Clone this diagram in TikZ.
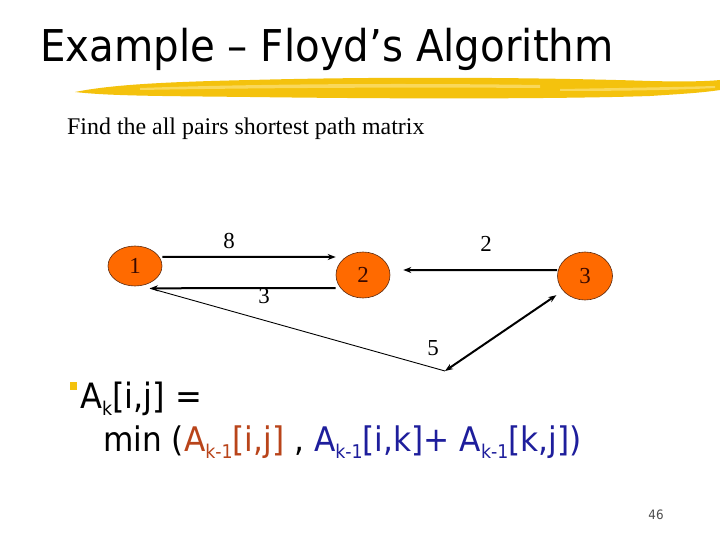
\documentclass[tikz,border=0pt]{standalone}
\usepackage{fontspec}
\setmainfont{Liberation Serif}
\newfontfamily\tahoma[FakeStretch=0.92]{DejaVu Sans}
\usetikzlibrary{shapes.geometric,arrows.meta,calc}
\definecolor{nodeorange}{HTML}{FF6A00}
\definecolor{nodeline}{HTML}{5A2A10}
\definecolor{nodetext}{HTML}{3A0A00}
\definecolor{brush}{HTML}{F4C20D}
\definecolor{brushlight}{HTML}{F9D85A}
\definecolor{redbrown}{HTML}{B9441A}
\definecolor{navyblue}{HTML}{1E1E9C}
\newcommand\mysub[1]{\raisebox{-0.4ex}{\fontsize{19pt}{19pt}\selectfont #1}}
\tikzset{
  vertex/.style={ellipse,fill=nodeorange,draw=nodeline,line width=0.6bp,inner sep=0pt,
     text=nodetext,font=\fontsize{23pt}{23pt}\selectfont},
  edgelabel/.style={font=\fontsize{23pt}{23pt}\selectfont,inner sep=0pt},
  arc/.style={line width=2bp,-{Stealth[length=8bp,width=6bp]}},
  thinarc/.style={line width=0.9bp}
}
\begin{document}
\begin{tikzpicture}[x=1bp,y=-1bp]
\useasboundingbox (0,0) rectangle (720,540);
\fill[white] (0,0) rectangle (720,540);
% title
\node[anchor=base west,inner sep=0pt,font=\tahoma\fontsize{44pt}{44pt}\selectfont] (title) at (40,62) {Example – Floyd’s Algorithm};
% brush stroke
\fill[brush] (75,92) .. controls (110,85) and (160,82) .. (250,80)
  .. controls (400,76) and (560,78) .. (650,81) .. controls (690,82) and (710,81) .. (720,80)
  -- (720,90) .. controls (700,93) and (680,94) .. (650,96)
  .. controls (560,99) and (400,99) .. (250,97) .. controls (160,96) and (110,96) .. (75,92) -- cycle;
\fill[brushlight] (140,88) .. controls (250,84) and (400,83) .. (540,85) -- (540,88) .. controls (400,87) and (250,88) .. (140,90) -- cycle;
\fill[brushlight] (560,89) .. controls (620,88) and (680,87) .. (715,86) -- (715,88) .. controls (680,90) and (620,91) .. (560,91) -- cycle;
% subtitle
\node[anchor=base west,inner sep=0pt,font=\fontsize{24pt}{24pt}\selectfont] (sub) at (67,135) {Find the all pairs shortest path matrix};
% vertices
\node[vertex,minimum width=54bp,minimum height=40bp] (n1) at (135,266) {1};
\node[vertex,minimum width=54bp,minimum height=46bp] (n2) at (363,275) {2};
\node[vertex,minimum width=55bp,minimum height=48bp] (n3) at (585,276) {3};
\coordinate (bend) at (445,371);
% edges
\draw[arc] ([yshift=9bp]n1.east) -- ([yshift=18bp]n2.west);
\draw[arc] ([yshift=-13bp]n2.west) -- ([xshift=15bp,yshift=-2bp]n1.south);
\draw[arc] ([yshift=6bp]n3.west) -- ([xshift=13bp,yshift=5bp]n2.east);
\draw[thinarc] ([xshift=15bp,yshift=-2bp]n1.south) -- (bend);
\draw[line width=2bp,{Stealth[length=8bp,width=6bp]}-{Stealth[length=8bp,width=6bp]}] (bend) -- ([xshift=-9bp,yshift=-2bp]n3.south west);
% edge labels
\node[edgelabel] (l8) at (229,241) {8};
\node[edgelabel] (l3) at (264,296) {3};
\node[edgelabel] (l2) at (486,244) {2};
\node[edgelabel] (l5) at (433,348) {5};
% formula
\fill[brush] (70,382) rectangle (77,390);
\node[anchor=base west,inner sep=0pt,font=\tahoma\fontsize{35pt}{35pt}\selectfont] (f1) at (80,408) {A\mysub{k}[i,j] =};
\node[anchor=base west,inner sep=0pt,font=\tahoma\fontsize{34pt}{34pt}\selectfont] (f2) at (103,451)
  {min (\textcolor{redbrown}{A\mysub{k-1}[i,j]} , \textcolor{navyblue}{A\mysub{k-1}[i,k]+ A\mysub{k-1}[k,j])}};
% page number
\node[font=\tahoma\fontsize{13pt}{13pt}\selectfont,text=black!70,inner sep=0pt] (pg) at (656,515) {46};
\end{tikzpicture}
\end{document}
